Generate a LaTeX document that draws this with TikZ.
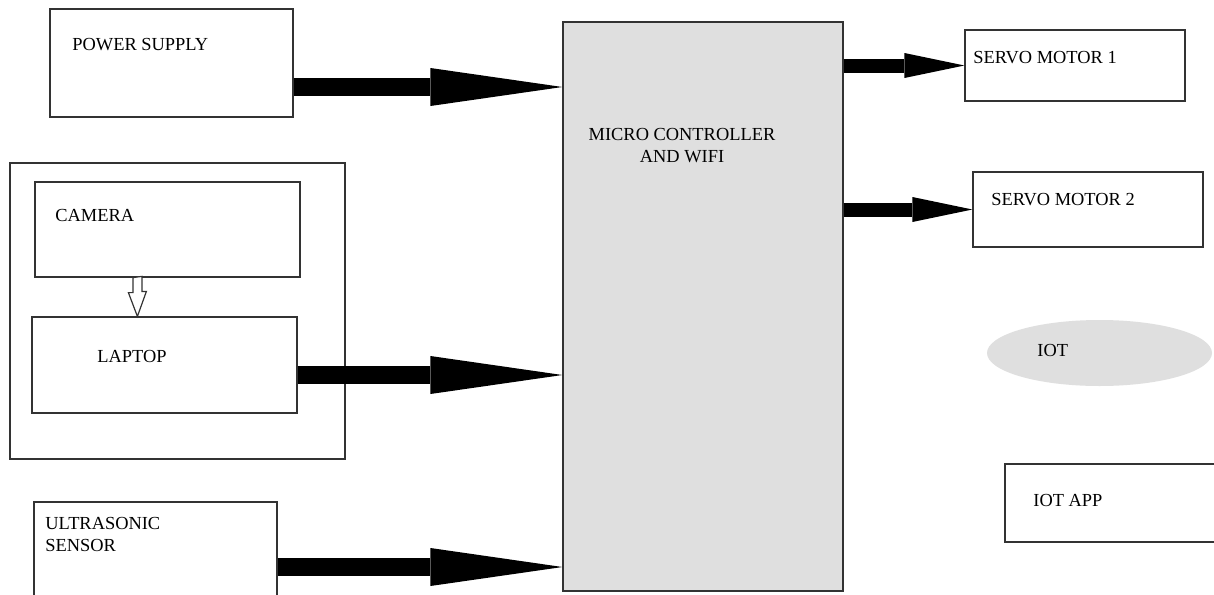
\documentclass[tikz,border=0pt]{standalone}
\usepackage{fontspec}
\setmainfont{Liberation Serif}
\usetikzlibrary{arrows.meta,shapes.geometric}
\definecolor{boxgray}{RGB}{223,223,223}

\begin{document}
\begin{tikzpicture}[x=0.5pt, y=-0.5pt,
    every node/.style={font=\fontsize{9.2}{11}\selectfont},
    box/.style={draw=black!80, line width=0.6pt, inner sep=0pt},
    lbl/.style={anchor=west, inner sep=0pt},
    bigarrow/.style={line width=9pt, -{Triangle[length=66pt, width=19pt, line width=0pt]}},
    smallarrow/.style={line width=7pt, -{Triangle[length=30pt, width=12.5pt, line width=0pt]}}]
                \clip (0,0) rectangle (1214,594);
                \fill[white] (0,0) rectangle (1214,594);

                % blocks
                \node[box, minimum width=121.5pt, minimum height=54pt] (ps) at (171.5,63) {};
                \node[box, fill=boxgray, minimum width=140pt, minimum height=284.5pt] (mcu) at (703,306.5) {};
                \node[box, minimum width=167.5pt, minimum height=148pt] (grp) at (177.5,311) {};
                \node[box, minimum width=132.5pt, minimum height=47.5pt] (cam) at (167.5,229.5) {};
                \node[box, minimum width=132.5pt, minimum height=48pt] (lap) at (164.5,365) {};
                \node[box, minimum width=121.5pt, minimum height=47pt] (us) at (155.5,549) {};
                \node[box, minimum width=110pt, minimum height=35.5pt] (sm1) at (1075,65.5) {};
                \node[box, minimum width=115pt, minimum height=37.5pt] (sm2) at (1088,209.5) {};
                \node[ellipse, fill=boxgray, inner sep=0pt, minimum width=112.5pt, minimum height=33pt] (iot) at (1099.5,353) {};
                \node[box, minimum width=107.5pt, minimum height=39pt] (app) at (1112.5,503) {};

                % labels
                \node[lbl] (pslbl) at (72,45) {POWER SUPPLY};
                \node[align=center, inner sep=0pt] (mculbl) at (682,146) {MICRO CONTROLLER\\AND WIFI};
                \node[lbl] (camlbl) at (55,215) {CAMERA};
                \node[lbl] (laplbl) at (97,356) {LAPTOP};
                \node[lbl, align=left] (uslbl) at (45,534) {ULTRASONIC\\SENSOR};
                \node[lbl] (sm1lbl) at (973,58) {SERVO MOTOR 1};
                \node[lbl] (sm2lbl) at (991,200) {SERVO MOTOR 2};
                \node[lbl] (iotlbl) at (1037,350) {IOT};
                \node[lbl] (applbl) at (1033,500) {IOT APP};

                % arrows
                \path ([yshift=-12pt]ps.east) coordinate (psout);
                \draw[bigarrow] (psout) -- (psout -| mcu.west);
                \path ([yshift=-5pt]lap.east) coordinate (lapout);
                \draw[bigarrow] (lapout) -- (lapout -| mcu.west);
                \path ([yshift=-9pt]us.east) coordinate (usout);
                \draw[bigarrow] (usout) -- (usout -| mcu.west);
                \draw[smallarrow] (mcu.east |- sm1.west) -- (sm1.west);
                \draw[smallarrow] (mcu.east |- sm2.west) -- (sm2.west);

                \path (cam.south west) ++(103,0) coordinate (camout);
                \draw[box, fill=white] (camout) ++(-4.5,0) -- ++(0,15) -- ++(-4.5,0) -- (camout |- lap.north) -- ++(9,-25) -- ++(-4.5,0) -- ++(0,-15) -- cycle;
\end{tikzpicture}
\end{document}
